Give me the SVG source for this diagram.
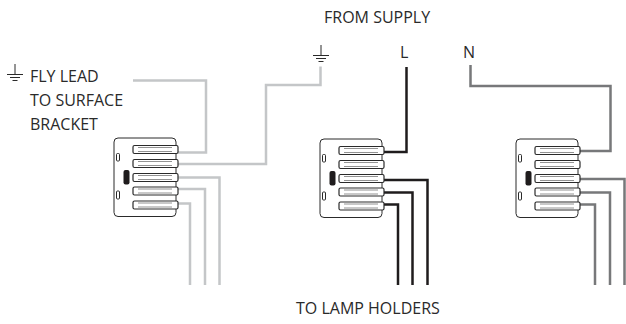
<svg xmlns="http://www.w3.org/2000/svg" xmlns:xlink="http://www.w3.org/1999/xlink" width="626" height="324" viewBox="0 0 626 324">
<style>
text{font-family:"Open Sans","Noto Sans",sans-serif;font-size:16px;fill:#2a2a2a}
.w{fill:none;stroke-width:2.500}
.a{stroke:#c4c6c8}.b{stroke:#1f1c1d}.c{stroke:#77787a}
.o{fill:#fff;stroke:#2a2a2a;stroke-width:1}
.t{fill:#fff;stroke:#2a2a2a;stroke-width:1.200}
.s{fill:none;stroke:#777;stroke-width:.8}
.g{fill:none;stroke:#2a2a2a;stroke-width:1}
</style>
<defs>
<g id="blk">
<rect class="o" x="114" y="138" width="62" height="78.500" rx="4"/>
<rect class="o" x="116.500" y="153.500" width="3" height="7.500" rx="1"/>
<rect class="o" x="116.500" y="191" width="3" height="8" rx="1"/>
<rect x="123.500" y="170" width="6" height="14.500" rx="2" fill="#1f1c1d"/>
<g id="term"><rect class="t" x="133" y="145.500" width="45" height="8" rx="1.500"/><path class="s" d="M138 147.500H172M138 151.500H172"/></g>
<use xlink:href="#term" y="14"/><use xlink:href="#term" y="28"/><use xlink:href="#term" y="41.500"/><use xlink:href="#term" y="55.500"/>
</g>
<g id="gnd"><path class="g" d="M0 0V10.500M-8 10.500H8M-5 13.500H5M-2.500 16.500H2.500"/></g>
</defs>
<g id="connectors">
<path class="w a" d="M133 80.500H206V152.500H178"/>
<path class="w a" d="M178 164H266V85H320.500V66.500"/>
<path class="w a" d="M178 177.500H219.500V285"/>
<path class="w a" d="M178 189H205V285"/>
<path class="w a" d="M178 203.500H190V285"/>
<path class="w b" d="M406.500 67V152H384"/>
<path class="w b" d="M384 180H427.500V285"/>
<path class="w b" d="M384 192.500H412.500V285"/>
<path class="w b" d="M384 204.500H398V285"/>
<path class="w c" d="M470.500 65V86H610.500V151H580"/>
<path class="w c" d="M580 179H624.500V285"/>
<path class="w c" d="M580 192.500H610V285"/>
<path class="w c" d="M580 204.500H595V285"/>
</g>
<g id="block-1"><use xlink:href="#blk"/></g>
<g id="block-2"><use xlink:href="#blk" x="206" y="1"/></g>
<g id="block-3"><use xlink:href="#blk" x="402" y="1"/></g>
<g id="earth-fly"><use xlink:href="#gnd" x="15" y="64"/></g>
<g id="earth-supply"><use xlink:href="#gnd" x="321" y="45"/></g>
<g id="labels">
<text x="30" y="81.500">FLY LEAD</text>
<text x="30" y="105.500">TO SURFACE</text>
<text x="30" y="129.500">BRACKET</text>
<text x="324" y="23">FROM SUPPLY</text>
<text x="400" y="57.500">L</text>
<text x="463" y="57.500">N</text>
<text x="296" y="314">TO LAMP HOLDERS</text>
</g>
</svg>
